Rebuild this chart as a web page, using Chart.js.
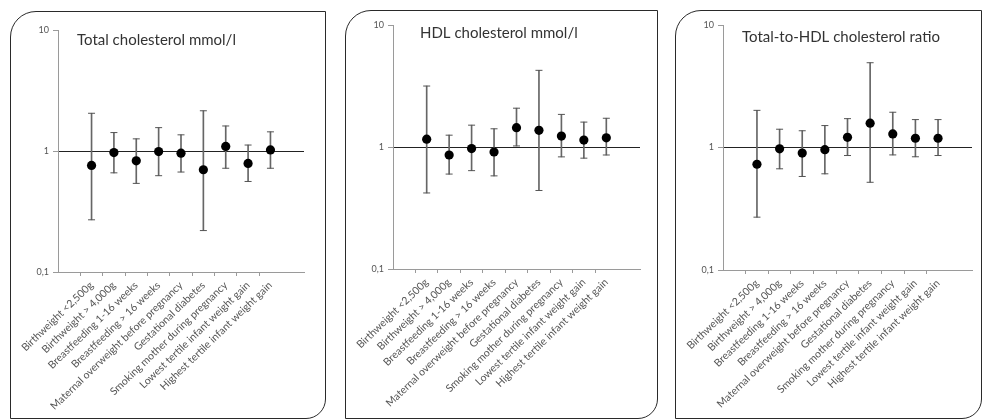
<!DOCTYPE html>
<html>
<head>
<meta charset="utf-8">
<script src="https://cdn.jsdelivr.net/npm/chart.js@4.4.1/dist/chart.umd.min.js"></script>
<style>
  html, body { margin: 0; padding: 0; background: #fff; }
  body { width: 983px; height: 419px; position: relative; overflow: hidden; }
  .panel { position: absolute; box-sizing: border-box; border: 1.5px solid #2a2a2a; border-radius: 26px 0 20px 0; }
  canvas { position: absolute; }
</style>
</head>
<body>
<div class="panel" id="p1" style="left:10px;top:11px;width:316px;height:408px;"></div>
<div class="panel" id="p2" style="left:345px;top:10px;width:313px;height:409px;"></div>
<div class="panel" id="p3" style="left:675px;top:10px;width:307px;height:409px;"></div>
<canvas id="c1" style="left:10px;top:11px;" width="315" height="407"></canvas>
<canvas id="c2" style="left:345px;top:10px;" width="313" height="408"></canvas>
<canvas id="c3" style="left:675px;top:10px;" width="306" height="408"></canvas>
<script>
const categories = [
  'Birthweight <2,500g',
  'Birthweight > 4,000g',
  'Breastfeeding 1-16 weeks',
  'Breastfeeding > 16 weeks',
  'Maternal overweight before pregnancy',
  'Gestational diabetes',
  'Smoking mother during pregnancy',
  'Lowest tertile infant weight gain',
  'Highest tertile infant weight gain'
];
const yTickValues = [0.1, 1, 10];
const yTickLabels = ['0,1', '1', '10'];

const titles = ['Total cholesterol mmol/l', 'HDL cholesterol mmol/l', 'Total-to-HDL cholesterol ratio'];

const totalEst   = [0.76, 0.97, 0.83, 0.99, 0.96, 0.70, 1.09, 0.79, 1.02];
const totalLow   = [0.27, 0.66, 0.54, 0.625, 0.67, 0.22, 0.72, 0.56, 0.72];
const totalHigh  = [2.05, 1.42, 1.26, 1.56, 1.36, 2.15, 1.61, 1.12, 1.44];

const hdlEst     = [1.16, 0.86, 0.97, 0.91, 1.44, 1.37, 1.23, 1.14, 1.19];
const hdlLow     = [0.42, 0.60, 0.64, 0.58, 1.02, 0.44, 0.83, 0.81, 0.86];
const hdlHigh    = [3.16, 1.25, 1.51, 1.41, 2.08, 4.25, 1.85, 1.60, 1.72];

const ratioEst   = [0.73, 0.975, 0.90, 0.96, 1.21, 1.58, 1.29, 1.19, 1.19];
const ratioLow   = [0.27, 0.67, 0.58, 0.61, 0.86, 0.52, 0.87, 0.84, 0.86];
const ratioHigh  = [2.01, 1.41, 1.37, 1.51, 1.72, 4.92, 1.94, 1.69, 1.69];

const FONT = 'Lato, "Open Sans", "DejaVu Sans", sans-serif';

const titlePlugin = {
  id: 'innerTitle',
  afterDraw(chart, args, opts) {
    const { ctx, chartArea } = chart;
    ctx.save();
    ctx.font = '15px ' + FONT;
    ctx.fillStyle = '#333';
    ctx.textBaseline = 'middle';
    ctx.textAlign = 'left';
    ctx.fillText(opts.text, chartArea.left + opts.dx, chartArea.top + opts.dy);
    ctx.restore();
  }
};

function makeChart(id, title, est, low, high, lay) {
  const pts = est.map((v, i) => ({ x: i + 1, y: v }));
  const bars = est.map((v, i) => ({ x: i + 1, y: [low[i], high[i]] }));
  const caps = est.map((v, i) => ({ x: i + 1, y: low[i] })).concat(est.map((v, i) => ({ x: i + 1, y: high[i] })));
  return new Chart(document.getElementById(id), {
    type: 'bar',
    data: {
      datasets: [
        { type: 'scatter', data: pts, pointStyle: 'circle', radius: 4.6, backgroundColor: '#000', borderWidth: 0, order: 0 },
        { type: 'scatter', data: caps, pointStyle: 'line', radius: 3.5, borderColor: '#555', borderWidth: 1, order: 1 },
        { type: 'bar', data: bars, barThickness: 1, backgroundColor: '#666', borderWidth: 0, grouped: false, order: 2 }
      ]
    },
    options: {
      responsive: false,
      animation: false,
      events: [],
      layout: { padding: { left: 0, top: lay.top, right: lay.right, bottom: 0 } },
      plugins: {
        legend: { display: false },
        tooltip: { enabled: false },
        innerTitle: { text: title, dx: lay.tdx, dy: lay.tdy }
      },
      scales: {
        x: {
          type: 'linear',
          min: 0, max: 10,
          afterFit: s => { s.height = lay.xh; },
          border: { color: '#9a9a9a', width: 1 },
          grid: {
            drawOnChartArea: false,
            tickLength: 4,
            tickColor: c => (c.tick && c.tick.value >= 1 && c.tick.value <= categories.length) ? '#9a9a9a' : 'rgba(0,0,0,0)'
          },
          ticks: {
            stepSize: 1,
            autoSkip: false,
            maxRotation: 44,
            minRotation: 44,
            padding: 3,
            color: '#555',
            font: { family: FONT, size: 10.5 },
            callback: v => categories[v - 1] || ''
          }
        },
        y: {
          type: 'logarithmic',
          min: 0.1, max: 10,
          afterFit: s => { s.width = lay.yw; },
          afterBuildTicks: s => { s.ticks = yTickValues.map(v => ({ value: v })); },
          border: { color: '#9a9a9a', width: 1 },
          grid: {
            drawOnChartArea: true,
            tickLength: 5,
            color: c => (c.tick && c.tick.value === 1) ? '#222' : 'rgba(0,0,0,0)',
            tickColor: '#9a9a9a'
          },
          ticks: {
            padding: 4,
            color: '#555',
            font: { family: FONT, size: 9 },
            callback: v => { const k = yTickValues.indexOf(v); return k >= 0 ? yTickLabels[k] : ''; }
          }
        }
      }
    },
    plugins: [titlePlugin]
  });
}

makeChart('c1', titles[0], totalEst, totalLow, totalHigh, { top: 19, right: 21, xh: 146, yw: 48, tdx: 19, tdy: 10 });
makeChart('c2', titles[1], hdlEst, hdlLow, hdlHigh, { top: 15, right: 18, xh: 149, yw: 48, tdx: 27, tdy: 8 });
makeChart('c3', titles[2], ratioEst, ratioLow, ratioHigh, { top: 15, right: 9, xh: 148, yw: 48, tdx: 19, tdy: 12 });
</script>
</body>
</html>
